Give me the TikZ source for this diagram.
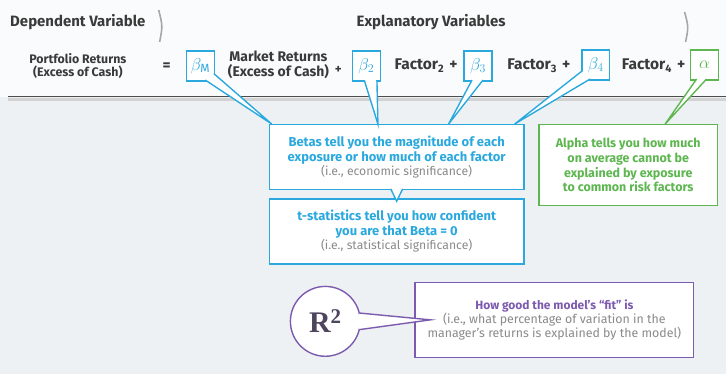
\documentclass[tikz,border=0pt]{standalone}
\usepackage{fontspec}
\setmainfont{Fira Sans}
\newfontfamily\rsqfont{Liberation Serif}
\usetikzlibrary{positioning, calc}
\definecolor{betablue}{HTML}{2BA9DE}
\definecolor{alphagreen}{HTML}{5DB64F}
\definecolor{fitpurple}{HTML}{7C5BAF}
\definecolor{inkgray}{HTML}{3A3A3A}
\definecolor{notegray}{HTML}{8A8A8A}
\definecolor{paper}{HTML}{EEF1F4}

\begin{document}
\begin{tikzpicture}[x=1pt, y=-1pt, node distance = 8pt,
  coef/.style = {draw=betablue, line width=1.4pt, fill=white, minimum width=28pt,
    minimum height=30pt, inner sep=0pt, text=betablue, font=\fontsize{17}{17}\selectfont},
  term/.style = {text=inkgray, align=center, inner sep=0pt,
    font=\bfseries\fontsize{15.5}{13}\selectfont},
  note/.style = {line width=1.4pt, fill=white, align=center, inner sep=0pt,
    font=\bfseries\fontsize{13}{14.5}\selectfont},
  tail/.style = {line width=1.4pt, fill=white, draw=#1, line join=miter},
  bracket/.style = {draw=gray!70, line width=1.6pt}]
  \fill[paper] (0,0) rectangle (727,375);
  \fill[white!70!paper] (0,0) rectangle (727,97);

  % header
  \node[term, font=\bfseries\fontsize{15}{15}\selectfont] (dep) at (78,22) {Dependent Variable};
  \node[term, font=\bfseries\fontsize{15}{15}\selectfont] (expl) at (432,22) {Explanatory Variables};
  \draw[bracket] (159,10) .. controls (163,26) .. (160,42);
  \draw[bracket] (686,12) .. controls (690,27) .. (687,42);
  \draw[gray!35, line width=3pt] (8,100) -- (727,100);
  \draw[gray!60!black, line width=1.2pt] (8,97) -- (727,97);

  % regression line
  \node[term, font=\bfseries\fontsize{12.4}{12.4}\selectfont] (port) at (78,66) {Portfolio Returns\\(Excess of Cash)};
  \node[term] (eq) at (167,67) {=};
  \node[coef] (bM) at (201,66) {$\beta_{\mathrm{M}}$};
  \node[term, font=\bfseries\fontsize{14}{14.5}\selectfont] (mkt) at (279,65) {Market Returns\\(Excess of Cash)};
  \node[term, font=\bfseries\fontsize{13}{13}\selectfont] (p1) at (339,70) {+};
  \node[coef] (b2) at (367,66) {$\beta_2$};
  \node[term] (f2) at (427,66) {Factor\textsubscript{2}\,\,+};
  \node[coef] (b3) at (479,66) {$\beta_3$};
  \node[term] (f3) at (540,66) {Factor\textsubscript{3}\,\,+};
  \node[coef] (b4) at (597,65) {$\beta_4$};
  \node[term] (f4) at (655,66) {Factor\textsubscript{4}\,\,+};
  \node[coef, draw=alphagreen, text=alphagreen] (alph) at (706,65) {$\alpha$};

  % notes
  \node[note, draw=betablue, text=betablue, minimum width=255pt, minimum height=65pt]
    (betas) at (397.5,157.5) {Betas tell you the magnitude of each\\exposure or how much of each factor\\
    {\mdseries\color{notegray}\fontsize{12.2}{12}\selectfont(i.e., economic significance)}};
  \node[note, draw=betablue, text=betablue, minimum width=255pt, minimum height=65pt]
    (tstat) [below=of betas] {t-statistics tell you how confident\\you are that Beta = 0\\
    {\mdseries\color{notegray}\fontsize{12.2}{12}\selectfont(i.e., statistical significance)}};
  \node[note, draw=alphagreen, text=alphagreen, minimum width=179pt, minimum height=81pt,
    font=\bfseries\fontsize{12.5}{14.7}\selectfont]
    (alphanote) at (629.5,165.5) {Alpha tells you how much\\on average cannot be\\explained by exposure\\to common risk factors};
  \node[note, draw=fitpurple, text=fitpurple, minimum width=279pt, minimum height=75pt,
    font=\bfseries\fontsize{12}{14}\selectfont]
    (fit) at (555.5,320.5) {How good the model’s “fit” is\\
    {\mdseries\color{notegray}\fontsize{12.4}{13}\selectfont(i.e., what percentage of variation in the}\\
    {\mdseries\color{notegray}\fontsize{12.4}{13}\selectfont manager’s returns is explained by the model)}};
  \node[circle, draw=fitpurple, line width=1.4pt, fill=white, minimum size=70pt, inner sep=0pt,
    font=\rsqfont\bfseries\fontsize{30}{30}\selectfont, text=inkgray!70!fitpurple]
    (r2) at (326,322) {R\textsuperscript{2}};

  % callout tails
  \draw[tail=betablue] ($(bM.south east)+(-10,-1.5)$) -- ($(betas.north west)+(3,0)$) -- ($(bM.south east)+(-1.5,-8)$);
  \draw[tail=betablue] ($(b2.south)+(-2,-1.5)$) -- ($(b2.south east |- betas.north)+(-3,0)$) -- ($(b2.south east)+(-4,-1.5)$);
  \draw[tail=betablue] ($(b3.south)+(-6,-1.5)$) -- ($(betas.north)+(52,0)$) -- ($(b3.south)+(5,-1.5)$);
  \draw[tail=betablue] ($(b4.south west)+(1.5,-10)$) -- ($(betas.north east)+(-10,0)$) -- ($(b4.south west)+(9,-1.5)$);
  \draw[tail=alphagreen] ($(alph.south)+(-8,-1.5)$) -- ($(alphanote.north)+(37,0)$) -- ($(alph.south)+(2,-1.5)$);
  \draw[tail=betablue] ($(betas.south)+(-6,-1.5)$) -- ($(tstat.north)+(0,3)$) -- ($(betas.south)+(6,-1.5)$);
  \draw[tail=fitpurple] ($(r2.center)!0.97!(r2.14)$) -- ($(fit.west)+(16,0)$) -- ($(r2.center)!0.97!(r2.-14)$);
\end{tikzpicture}
\end{document}
